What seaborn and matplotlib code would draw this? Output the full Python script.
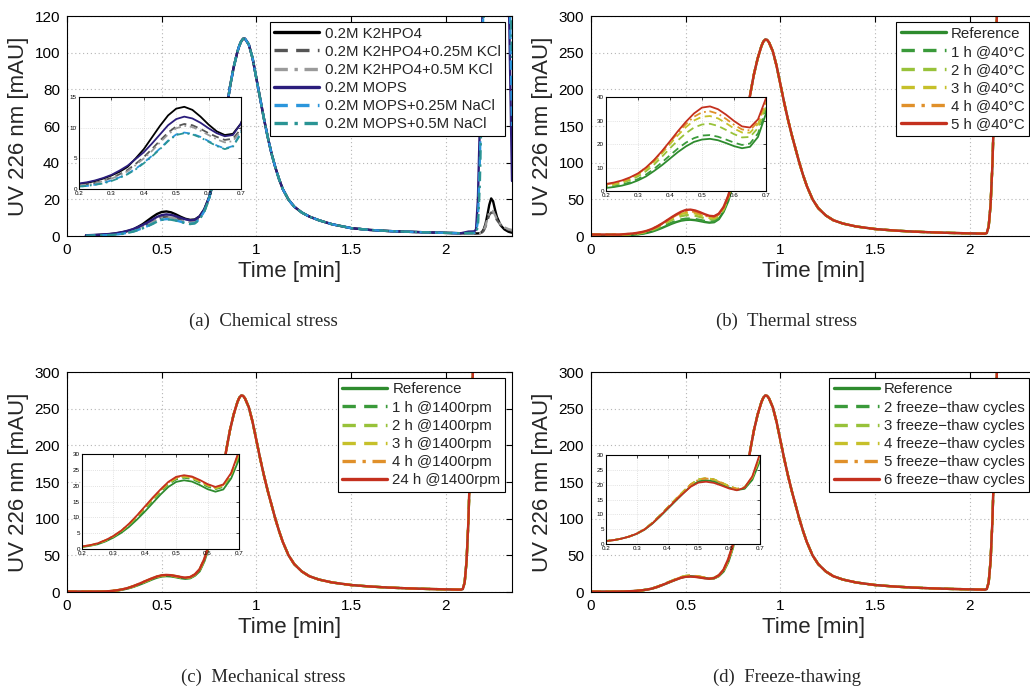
import numpy as np
import pandas as pd
import seaborn as sns
import matplotlib.pyplot as plt

sns.set_style("white")
plt.rcParams['font.family'] = ['Liberation Sans', 'DejaVu Sans']

W, H = 1030, 686
nan = np.nan

# ---- time grids [min] ----
t_early = [0.0, 0.05, 0.1, 0.15, 0.2, 0.225, 0.25, 0.275, 0.3, 0.325, 0.35, 0.375,
           0.4, 0.425, 0.45, 0.475, 0.5, 0.525, 0.55, 0.575, 0.6, 0.625, 0.65,
           0.675, 0.7, 0.725, 0.75]
t_main = [0.78, 0.8, 0.82, 0.84, 0.86, 0.88, 0.9, 0.91, 0.92, 0.93, 0.94, 0.96, 0.98, 1.0,
          1.02, 1.04, 1.06, 1.08, 1.1, 1.12, 1.14, 1.17, 1.2, 1.24, 1.28, 1.33, 1.4, 1.5,
          1.6, 1.7, 1.8, 1.9, 2.0, 2.08]
t_late_a = [2.12, 2.15, 2.16, 2.17, 2.18, 2.19, 2.2, 2.21, 2.22, 2.23, 2.24, 2.25,
            2.26, 2.27, 2.29, 2.31, 2.33, 2.335, 2.35]
t_late = [2.09, 2.1, 2.11, 2.12, 2.13, 2.14, 2.15, 2.2, 2.35]

# ---- (a) chemical stress ----
a_labels = ['0.2M K2HPO4', '0.2M K2HPO4+0.25M KCl', '0.2M K2HPO4+0.5M KCl',
            '0.2M MOPS', '0.2M MOPS+0.25M NaCl', '0.2M MOPS+0.5M NaCl']
a_early_k2 = [nan, nan, 0.3, 0.5, 0.8, 1.0, 1.3, 1.7, 2.2, 2.8, 3.6, 5.0, 6.5, 8.4, 10.3, 12.0,
              13.1, 13.4, 12.9, 11.8, 10.5, 9.4, 8.8, 9.0, 10.7, 14.5, 21.0]
a_early_k2_kcl25 = [nan, nan, 0.2, 0.4, 0.6, 0.8, 1.0, 1.4, 1.8, 2.4, 3.1, 4.1, 5.2, 6.5, 7.9, 9.2,
                    10.2, 10.6, 10.4, 9.8, 9.1, 8.5, 8.0, 8.2, 9.8, 13.8, 20.5]
a_early_k2_kcl50 = [nan, nan, 0.2, 0.4, 0.6, 0.7, 0.9, 1.3, 1.7, 2.2, 2.9, 3.9, 5.0, 6.2, 7.6, 8.9,
                    9.9, 10.3, 10.1, 9.5, 8.8, 8.1, 7.6, 7.8, 9.5, 13.5, 20.0]
a_early_mops = [nan, nan, 0.4, 0.6, 0.9, 1.1, 1.4, 1.8, 2.3, 3.0, 3.8, 4.9, 6.0, 7.4, 8.9, 10.4,
                11.4, 11.8, 11.5, 10.8, 9.9, 9.1, 8.6, 8.8, 10.7, 14.5, 21.0]
a_early_mops_nacl25 = [nan, nan, 0.1, 0.3, 0.4, 0.5, 0.7, 1.0, 1.4, 1.9, 2.5, 3.3, 4.3, 5.4, 6.6, 7.9,
                       8.9, 9.2, 9.0, 8.5, 7.8, 7.1, 6.6, 7.0, 9.2, 13.5, 20.5]
a_early_mops_nacl50 = [nan, nan, 0.1, 0.3, 0.4, 0.5, 0.7, 0.9, 1.3, 1.8, 2.4, 3.2, 4.2, 5.3, 6.5, 7.8,
                       8.8, 9.1, 8.9, 8.4, 7.7, 7.0, 6.5, 6.9, 9.0, 13.3, 20.3]
a_main = [32, 42, 54, 67, 81, 92, 100.5, 103.8, 106.2, 107.6, 107.6, 104.5, 97, 86, 75, 64,
          54, 45, 37.5, 31, 25.5, 19.8, 16, 12.8, 10.6, 8.6, 6.4, 4.3, 3.3, 2.7, 2.3, 2.0,
          1.7, 1.5]
a_late_k2 = [1.4, 1.4, 1.4, 1.4, 1.5, 2.0, 3.5, 6.5, 11.5, 17.0, 20.5, 19.0, 14.5, 10.5,
             5.8, 3.6, 2.4, 2.2, 1.8]
a_late_k2_kcl25 = [1.3, 1.3, 1.3, 1.3, 1.4, 1.8, 2.8, 5.0, 8.5, 11.5, 12.8, 12.5, 10.8, 8.8,
                   6.0, 4.4, 3.5, 3.3, 3.0]
a_late_k2_kcl50 = [1.3, 1.3, 1.3, 1.3, 1.4, 1.9, 3.0, 5.5, 9.5, 12.8, 14.0, 13.5, 11.5, 9.2,
                   6.3, 4.7, 3.8, 3.6, 3.3]
a_late_mops = [2.4, 2.5, 3.5, 20, 60, 105, 150, 190, 225, 250, 265, 270, 270, 268, 255,
               225, 170, 120, 30]
a_late_mops_nacl25 = [1.6, 1.7, 2.2, 8, 40, 85, 130, 175, 210, 240, 260, 268, 270, 268,
                      258, 235, 190, 150, 60]
a_late_mops_nacl50 = [1.6, 1.6, 2.0, 5, 28, 72, 118, 165, 205, 235, 255, 265, 270, 270,
                      262, 242, 205, 175, 95]

# ---- (b) thermal stress ----
b_labels = ['Reference', '1 h @40°C', '2 h @40°C', '3 h @40°C', '4 h @40°C', '5 h @40°C']
b_early_ref = [1.5, 1.4, 1.3, 1.1, 1.3, 1.7, 2.3, 3.2, 4.5, 6.2, 8.5, 11.0, 13.8, 16.6, 19.0, 20.9,
               21.9, 22.2, 21.6, 20.4, 19.1, 18.2, 18.8, 23.0, 33.0, 48.0, 70.0]
b_early_1h = [1.6, 1.5, 1.4, 1.2, 1.6, 2.0, 2.7, 3.7, 5.1, 7.0, 9.4, 12.2, 15.2, 18.1, 20.6, 22.5,
              23.6, 23.8, 23.1, 21.9, 20.6, 19.6, 20.2, 24.5, 34.5, 50.0, 72.0]
b_early_2h = [1.8, 1.7, 1.6, 1.5, 2.1, 2.6, 3.4, 4.6, 6.2, 8.4, 11.2, 14.6, 18.2, 21.6, 24.6, 27.0,
              28.3, 28.6, 27.7, 26.0, 24.2, 22.8, 23.0, 26.8, 36.0, 52.0, 74.0]
b_early_3h = [1.9, 1.8, 1.7, 1.7, 2.5, 3.0, 3.9, 5.2, 6.9, 9.3, 12.3, 16.0, 20.0, 23.8, 27.2, 30.0,
              31.6, 31.9, 30.9, 28.9, 26.6, 24.9, 24.8, 28.5, 37.5, 53.0, 76.0]
b_early_4h = [2.0, 1.9, 1.8, 1.8, 2.8, 3.3, 4.2, 5.5, 7.3, 9.8, 12.9, 16.7, 20.8, 24.8, 28.5, 31.6,
              33.5, 33.9, 32.9, 30.7, 28.2, 26.2, 25.8, 29.5, 38.5, 54.0, 77.0]
b_early_5h = [2.0, 2.0, 2.0, 2.0, 3.0, 3.6, 4.5, 5.8, 7.5, 10.0, 13.2, 17.0, 21.2, 25.5, 29.5, 33.0,
              35.5, 36.0, 34.8, 32.5, 29.8, 27.5, 27.0, 30.5, 39.5, 55.0, 78.0]

# ---- (c) mechanical stress ----
c_labels = ['Reference', '1 h @1400rpm', '2 h @1400rpm', '3 h @1400rpm', '4 h @1400rpm',
            '24 h @1400rpm']
c_early_ref = [0.5, 0.5, 0.5, 0.5, 0.6, 1.0, 1.5, 2.4, 3.6, 5.1, 7.0, 9.3, 11.8, 14.5, 17.2, 19.6,
               21.2, 21.7, 21.3, 20.2, 18.9, 18.1, 18.8, 22.3, 28.3, 42.0, 62.0]
c_early_1h = [0.5, 0.5, 0.5, 0.5, 0.7, 1.1, 1.7, 2.6, 3.9, 5.5, 7.5, 9.9, 12.6, 15.4, 18.0, 20.4,
              22.0, 22.5, 22.1, 21.0, 19.7, 18.9, 19.6, 23.2, 29.5, 43.5, 63.5]
c_early_2h = [0.5, 0.5, 0.5, 0.5, 0.7, 1.1, 1.7, 2.7, 4.0, 5.6, 7.7, 10.2, 12.9, 15.7, 18.3, 20.7,
              22.3, 22.8, 22.4, 21.3, 20.0, 19.1, 19.9, 23.5, 30.0, 44.0, 64.0]
c_early_3h = [0.6, 0.6, 0.6, 0.6, 0.7, 1.1, 1.7, 2.7, 4.0, 5.7, 7.8, 10.3, 13.0, 15.8, 18.4, 20.8,
              22.4, 22.9, 22.5, 21.4, 20.1, 19.2, 20.0, 23.6, 30.2, 44.2, 64.2]
c_early_4h = [0.6, 0.6, 0.6, 0.6, 0.8, 1.2, 1.8, 2.8, 4.1, 5.8, 7.9, 10.5, 13.2, 16.0, 18.6, 21.0,
              22.6, 23.1, 22.7, 21.6, 20.3, 19.4, 20.2, 23.8, 30.6, 44.6, 64.6]
c_early_24h = [0.6, 0.6, 0.6, 0.6, 0.8, 1.2, 1.8, 2.8, 4.1, 5.8, 8.0, 10.6, 13.4, 16.2, 18.8, 21.2,
               22.8, 23.3, 22.9, 21.8, 20.5, 19.6, 20.4, 24.0, 31.0, 45.0, 65.0]

# ---- (d) freeze-thawing ----
d_labels = ['Reference', '2 freeze\u2212thaw cycles', '3 freeze\u2212thaw cycles',
            '4 freeze\u2212thaw cycles', '5 freeze\u2212thaw cycles', '6 freeze\u2212thaw cycles']
d_early_ref = [0.5, 0.5, 0.5, 0.6, 1.0, 1.3, 1.8, 2.5, 3.4, 4.8, 6.8, 9.2, 11.8, 14.4, 17.0, 19.5,
               21.1, 21.5, 21.1, 20.1, 19.0, 18.2, 18.6, 21.6, 28.0, 41.0, 61.0]
d_early_2c = [0.5, 0.5, 0.5, 0.6, 1.0, 1.3, 1.8, 2.5, 3.5, 5.0, 7.1, 9.6, 12.2, 14.9, 17.5, 20.0,
              21.7, 22.1, 21.7, 20.6, 19.4, 18.5, 19.0, 22.3, 29.0, 42.5, 62.5]
d_early_3c = [0.5, 0.5, 0.5, 0.6, 1.0, 1.3, 1.8, 2.5, 3.5, 5.0, 7.1, 9.6, 12.3, 15.0, 17.6, 20.1,
              21.8, 22.2, 21.8, 20.7, 19.5, 18.6, 19.1, 22.4, 29.2, 42.8, 62.8]
d_early_4c = [0.5, 0.5, 0.5, 0.6, 1.0, 1.3, 1.8, 2.5, 3.5, 5.0, 7.1, 9.6, 12.3, 15.0, 17.6, 20.1,
              21.8, 22.2, 21.8, 20.7, 19.5, 18.6, 19.1, 22.5, 29.4, 43.0, 63.0]
d_early_5c = [0.5, 0.5, 0.5, 0.6, 1.0, 1.3, 1.8, 2.5, 3.5, 5.0, 7.0, 9.5, 12.2, 14.9, 17.5, 20.0,
              21.7, 22.1, 21.7, 20.6, 19.4, 18.5, 19.1, 22.6, 29.8, 44.0, 64.0]
d_early_6c = [0.5, 0.5, 0.5, 0.6, 1.0, 1.3, 1.8, 2.5, 3.5, 4.9, 6.9, 9.4, 12.0, 14.6, 17.0, 19.3,
              20.7, 21.0, 20.6, 19.7, 18.7, 18.1, 19.0, 22.8, 30.5, 45.0, 65.0]

# main peak and late rise shared by (b), (c), (d)
main_300 = [105, 130, 160, 192, 220, 242, 259, 265, 268, 267.5, 264, 252, 232, 207, 182, 159,
            138, 119, 100, 83, 68, 50, 38, 28, 21.5, 17, 13, 9.5, 7.5, 6.0, 5.0, 4.2, 3.6, 3.2]
late_300 = [4.0, 13.0, 42.0, 98.0, 188.0, 272.0, 355.0, 600.0, 600.0]

# ---- styles ----
a_colors = ['#000000', '#555555', '#9a9a9a', '#2b1d7c', '#2b96dc', '#2a9494']
stress_colors = ['#2e8b2e', '#3a9a3a', '#98c23a', '#c6c02a', '#e0902a', '#c4301e']
styles = ['-', '--', '-.', '-', '--', '-.']
stress_styles = ['-', '--', '--', '--', '-.', '-']
dash_map = {'-': '', '--': (4, 2.5), '-.': (4, 2, 1, 2)}


def build(labels, parts):
    rows = []
    for lab, (tt, yy) in zip(labels, parts):
        rows.append(pd.DataFrame({'time': tt, 'uv': yy, 'series': lab}))
    return pd.concat(rows, ignore_index=True)


df_a = build(a_labels, [
    (t_early + t_main + t_late_a, a_early_k2 + a_main + a_late_k2),
    (t_early + t_main + t_late_a, a_early_k2_kcl25 + a_main + a_late_k2_kcl25),
    (t_early + t_main + t_late_a, a_early_k2_kcl50 + a_main + a_late_k2_kcl50),
    (t_early + t_main + t_late_a, a_early_mops + a_main + a_late_mops),
    (t_early + t_main + t_late_a, a_early_mops_nacl25 + a_main + a_late_mops_nacl25),
    (t_early + t_main + t_late_a, a_early_mops_nacl50 + a_main + a_late_mops_nacl50),
])
t_full = t_early + t_main + t_late
df_b = build(b_labels, [(t_full, e + main_300 + late_300) for e in
                        [b_early_ref, b_early_1h, b_early_2h, b_early_3h, b_early_4h, b_early_5h]])
df_c = build(c_labels, [(t_full, e + main_300 + late_300) for e in
                        [c_early_ref, c_early_1h, c_early_2h, c_early_3h, c_early_4h, c_early_24h]])
df_d = build(d_labels, [(t_full, e + main_300 + late_300) for e in
                        [d_early_ref, d_early_2c, d_early_3c, d_early_4c, d_early_5c, d_early_6c]])

panels = [
    # df, labels, colors, styles, ylim, yticks, inset ylim, inset yticks, axes px, inset px, caption
    (df_a, a_labels, a_colors, styles, 120, [0, 20, 40, 60, 80, 100, 120], 15, [0, 5, 10, 15],
     (67, 16), (79, 97, 241, 189), '(a)  Chemical stress', (263, 321)),
    (df_b, b_labels, stress_colors, stress_styles, 300, [0, 50, 100, 150, 200, 250, 300], 40,
     [0, 10, 20, 30, 40], (591, 16), (606, 97, 766, 191), '(b)  Thermal stress', (787, 321)),
    (df_c, c_labels, stress_colors, stress_styles, 300, [0, 50, 100, 150, 200, 250, 300], 30,
     [0, 5, 10, 15, 20, 25, 30], (67, 372), (82, 454, 239, 549), '(c)  Mechanical stress', (263, 677)),
    (df_d, d_labels, stress_colors, stress_styles, 300, [0, 50, 100, 150, 200, 250, 300], 30,
     [0, 5, 10, 15, 20, 25, 30], (591, 372), (606, 455, 760, 544), '(d)  Freeze-thawing', (787, 677)),
]

fig = plt.figure(figsize=(W / 100, H / 100), dpi=100)
ax_w, ax_h = 445, 220
grid_kw = dict(color='#b5b5b5', linestyle=(0, (1, 2.5)), linewidth=0.8)

for df, labels, colors, lstyles, ymax, yticks, iymax, iyticks, (x0, y0), ibox, cap, cpos in panels:
    ax = fig.add_axes([x0 / W, 1 - (y0 + ax_h) / H, ax_w / W, ax_h / H])
    ax.set_zorder(1)
    pal = dict(zip(labels, colors))
    dsh = {lab: dash_map[s] for lab, s in zip(labels, lstyles)}
    sns.lineplot(data=df, x='time', y='uv', hue='series', style='series', hue_order=labels,
                 style_order=labels, palette=pal, dashes=dsh, estimator=None, sort=False,
                 linewidth=1.7, legend=False, ax=ax)
    ax.set_xlim(0, 2.35)
    ax.set_ylim(0, ymax)
    ax.set_xticks([0, 0.5, 1, 1.5, 2])
    ax.set_xticklabels(['0', '0.5', '1', '1.5', '2'])
    ax.set_yticks(yticks)
    ax.set_yticklabels([str(v) for v in yticks])
    ax.grid(True, **grid_kw)
    ax.tick_params(direction='in', top=True, right=True, length=4, width=0.8,
                   labelsize=11, pad=5, colors='black')
    for sp in ax.spines.values():
        sp.set_color('black')
        sp.set_linewidth(0.8)
    ax.set_xlabel('Time [min]', fontsize=16, labelpad=3)
    ax.set_ylabel('UV 226 nm [mAU]', fontsize=16, labelpad=4)

    leg_right = 505 if x0 < 500 else 1029
    leg = ax.legend(ax.lines[:6], labels, loc='upper right',
                    bbox_to_anchor=(leg_right / W, 1 - (y0 + 6) / H),
                    bbox_transform=fig.transFigure, fontsize=10.8, frameon=True,
                    fancybox=False, framealpha=1, edgecolor='black', borderpad=0.3,
                    handlelength=3.0, handletextpad=0.35, labelspacing=0.28,
                    borderaxespad=0)
    leg.get_frame().set_linewidth(0.8)
    for ln in leg.get_lines():
        ln.set_linewidth(2.4)

    # zoomed inset, drawn over the main axes
    ix0, iy0, ix1, iy1 = ibox
    ins = fig.add_axes([ix0 / W, 1 - iy1 / H, (ix1 - ix0) / W, (iy1 - iy0) / H])
    ins.set_zorder(5)
    ins.set_facecolor('white')
    ins.patch.set_alpha(1)
    sns.lineplot(data=df, x='time', y='uv', hue='series', style='series', hue_order=labels,
                 style_order=labels, palette=pal, dashes=dsh, estimator=None, sort=False,
                 linewidth=1.3, legend=False, ax=ins)
    ins.set_xlim(0.2, 0.7)
    ins.set_ylim(0, iymax)
    xt = [0.2, 0.3, 0.4, 0.5, 0.6, 0.7]
    ins.set_xticks(xt)
    ins.set_xticklabels([f'{v:.1f}' for v in xt])
    ins.set_yticks(iyticks)
    ins.set_yticklabels([str(v) for v in iyticks])
    ins.grid(True, color='#c8c8c8', linestyle=(0, (1, 2)), linewidth=0.5)
    ins.tick_params(direction='in', top=True, right=True, length=2, width=0.5,
                    labelsize=4.5, pad=1.5, colors='black')
    ins.set_xlabel('')
    ins.set_ylabel('')
    for sp in ins.spines.values():
        sp.set_color('black')
        sp.set_linewidth(0.8)

    fig.text(cpos[0] / W, 1 - cpos[1] / H, cap, ha='center', va='center',
             family=['Liberation Serif', 'DejaVu Serif'], fontsize=13.5)

fig.savefig('out.png', dpi=100)
